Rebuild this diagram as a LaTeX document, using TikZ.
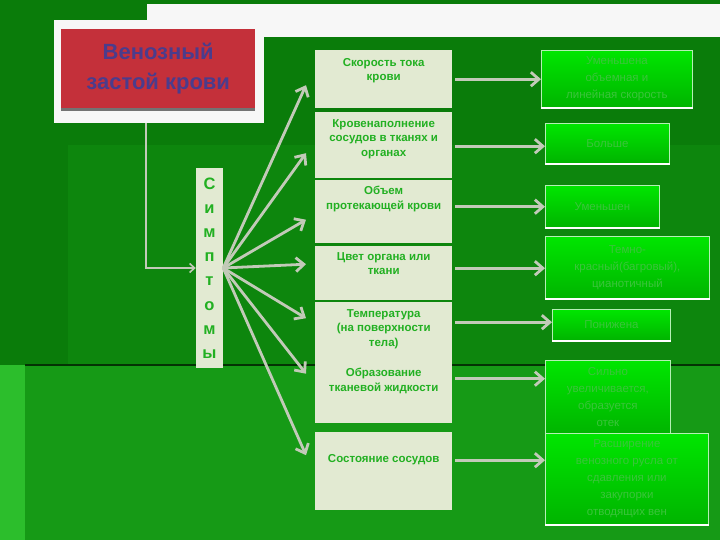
\documentclass[tikz,border=0pt]{standalone}
\usepackage{fontspec}
\setmainfont{Liberation Sans}
\usetikzlibrary{calc,arrows.meta}
\tikzset {>={Straight Barb[length=8pt,width=14pt]}}

\definecolor{bgdark}{HTML}{0A7C0A}
\definecolor{bgmid}{HTML}{0D860D}
\definecolor{bglight}{HTML}{169A16}
\definecolor{bgbright}{HTML}{2CBE2C}
\definecolor{boxbeige}{HTML}{E2EAD2}
\definecolor{txtgreen}{HTML}{22B022}
\definecolor{titlered}{HTML}{C4303A}
\definecolor{titleblue}{HTML}{4B3C8C}
\definecolor{arrowgray}{HTML}{C2CAB8}
\definecolor{restop}{HTML}{00E600}
\definecolor{resbot}{HTML}{00B400}
\definecolor{resline}{HTML}{B4F0B4}
\definecolor{restxt}{HTML}{3CC43C}

\begin{document}
\begin{tikzpicture}[x=1pt,y=-1pt,
  midbox/.style={fill=boxbeige,minimum width=137pt,anchor=north west,inner sep=0pt},
  midtxt/.style={text=txtgreen,anchor=north,align=center,inner sep=0pt,
    font=\bfseries\fontsize{11.5}{14.5}\selectfont},
  resbox/.style={top color=restop,bottom color=resbot,draw=resline,line width=.8pt,
    anchor=north west,inner sep=0pt,align=center,text=restxt,
    font=\fontsize{11.5}{17}\selectfont},
  fan/.style={->,line width=2.8pt,draw=arrowgray},
  ]
\useasboundingbox (0,0) rectangle (720,540);

% background
\fill[bgdark] (0,0) rectangle (720,540);
\fill[bgmid] (68,145) rectangle (720,365);
\fill[bglight] (25,365) rectangle (720,540);
\fill[bgbright] (0,365) rectangle (25,540);
\draw[line width=1.2pt,black!60!bgdark] (25,365) -- (720,365);
\fill[white!97!black] (147,4) rectangle (720,37);

% title
\node[fill=white!97!black,minimum width=210pt,minimum height=103pt,anchor=north west,
  inner sep=0pt] (frame) at (54,20) {};
\fill[black!55] (61,32) rectangle (255,111);
\node[fill=titlered,minimum width=194pt,minimum height=79pt,anchor=north west,
  inner sep=0pt,align=center,text=titleblue,
  font=\bfseries\fontsize{22}{30}\selectfont] (title) at (61,29) {Венозный\\застой крови};

% symptoms
\node[fill=boxbeige,minimum width=27pt,minimum height=200pt,inner sep=0pt,align=center,
  text=txtgreen,font=\bfseries\fontsize{16.5}{24.2}\selectfont] (symp) at (209.5,268)
  {С\\и\\м\\п\\т\\о\\м\\ы};
\draw[->,line width=1.6pt,draw=arrowgray,>={Straight Barb[length=5pt,width=9pt]}]
  ($(frame.south)+(-13,0)$) |- (symp.west);

% middle boxes
\foreach \i/\yt/\h/\ty/\txt in {
  1/50/58/8/{Скорость тока\\крови},
  2/112/66/7/{Кровенаполнение\\сосудов в тканях и\\органах},
  3/180/63/6/{Объем\\протекающей крови},
  4/246/54/6/{Цвет органа или\\ткани},
  5/302/58/7/{Температура\\(на поверхности\\тела)},
  6/360/63/8/{Образование\\тканевой жидкости},
  7/432/78/22/{Состояние сосудов}}
{
  \node[midbox,minimum height=\h pt] (m\i) at (315,\yt) {};
  \node[midtxt] (t\i) at ($(m\i.north)+(0,\ty)$) {\txt};
}

% results
\foreach \i/\x/\y/\w/\h/\txt in {
  1/541/50/151/57/{Уменьшена\\объемная и\\линейная скорость},
  2/545/123/124/40/{Больше},
  3/545/185/114/42/{Уменьшен},
  4/545/236/164/62/{Темно-\\красный(багровый),\\цианотичный},
  5/552/309/118/31/{Понижена},
  6/545/360/125/74/{Сильно\\увеличивается,\\образуется\\отек},
  7/545/433/163/91/{Расширение\\венозного русла от\\сдавления или\\закупорки\\отводящих вен}}
{
  \node[resbox,minimum width=\w pt,minimum height=\h pt] (r\i) at (\x,\y) {\txt};
  \draw[line width=2.5pt,white] (r\i.south west) -- (r\i.south east);
}

% arrows
\foreach \i/\dy in {1/6,2/8,3/8,4/-9,5/-13,6/-18,7/-16}
  \draw[fan] (symp.east) -- ($(m\i.west)+(-9,\dy)$);
\foreach \i/\dy in {1/0,2/1,3/-5,4/-5,5/-9,6/-13,7/-11}
  \draw[fan] (m\i.east) ++(3,\dy) coordinate (s\i) -- (r\i.west |- s\i);

\end{tikzpicture}
\end{document}
